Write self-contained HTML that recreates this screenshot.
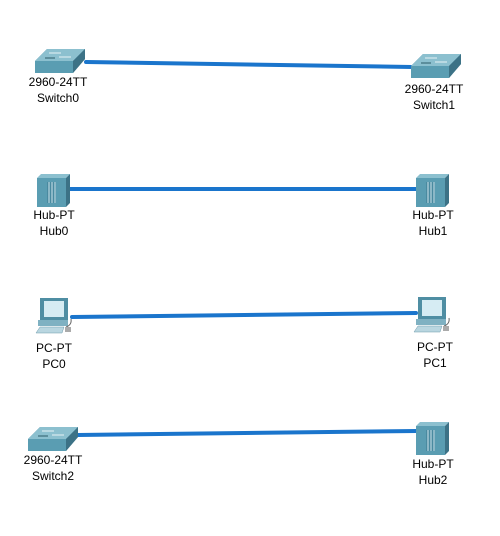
<!DOCTYPE html>
<html><head><meta charset="utf-8"><style>
html,body{margin:0;padding:0;background:#fff}
svg text{font-family:"Liberation Sans",Arial,sans-serif;font-size:12px;fill:#000;text-anchor:middle}
</style></head><body>
<svg width="500" height="531" viewBox="0 0 500 531" xmlns="http://www.w3.org/2000/svg">
<defs>
<g id="sw">
<polygon points="0,12 12,0 50,0 50,10 38,24 0,24" fill="#4f8ea3"/>
<polygon points="0,12 12,0 50,0 38,12" fill="#8cc0cf"/>
<polygon points="38,12 50,0 50,10 38,24" fill="#3c7286"/>
<rect x="0" y="12" width="38" height="12" fill="#5a9db2"/>
<line x1="14" y1="4" x2="26" y2="4" stroke="#e6f2f6" stroke-width="1"/>
<line x1="24" y1="8" x2="36" y2="8" stroke="#e6f2f6" stroke-width="1"/>
<line x1="10" y1="9" x2="20" y2="9" stroke="#2d5b6a" stroke-width="1"/>
</g>
<g id="hub">
<polygon points="0,4 4,0 33,0 29,4" fill="#8cc0cf"/>
<polygon points="29,4 33,0 33,29 29,33" fill="#3c7286"/>
<rect x="0" y="4" width="29" height="29" fill="#5a9db2"/>
<rect x="10" y="8" width="9" height="21" fill="#4a8aa0"/>
<line x1="12" y1="8" x2="12" y2="29" stroke="#cfe6ee"/>
<line x1="15" y1="8" x2="15" y2="29" stroke="#cfe6ee"/>
<line x1="18" y1="8" x2="18" y2="29" stroke="#cfe6ee"/>
</g>
<g id="pc">
<rect x="4" y="0" width="28" height="22" fill="#4f8ea3"/>
<rect x="8" y="3" width="20" height="16" fill="#d6ecf3"/>
<rect x="2" y="22" width="30" height="6" fill="#7fb1c2"/>
<polygon points="0,35 4,29 28,29 26,35" fill="#b9d6e0" stroke="#6d9aab" stroke-width="0.5"/>
<path d="M30,29 q6,-2 5,-8" stroke="#666" fill="none"/>
<rect x="29" y="29" width="6" height="5" fill="#aaa"/>
</g>
</defs>
<g stroke="#1a75cc" stroke-width="4" stroke-linecap="round">
<line x1="86" y1="62" x2="412" y2="67"/>
<line x1="70" y1="189" x2="417" y2="189"/>
<line x1="72" y1="317" x2="416" y2="313"/>
<line x1="78" y1="435" x2="417" y2="431"/>
</g>
<use href="#sw" x="35" y="49"/>
<use href="#sw" x="411" y="54"/>
<use href="#hub" x="37" y="174"/>
<use href="#hub" x="416" y="174"/>
<use href="#pc" x="36" y="298"/>
<use href="#pc" x="414" y="297"/>
<use href="#sw" x="28" y="427"/>
<use href="#hub" x="416" y="422"/>
<text x="58" y="86">2960-24TT</text><text x="58" y="102">Switch0</text>
<text x="434" y="93">2960-24TT</text><text x="434" y="109">Switch1</text>
<text x="54" y="219">Hub-PT</text><text x="54" y="235">Hub0</text>
<text x="433" y="219">Hub-PT</text><text x="433" y="235">Hub1</text>
<text x="54" y="352">PC-PT</text><text x="54" y="368">PC0</text>
<text x="435" y="351">PC-PT</text><text x="435" y="367">PC1</text>
<text x="53" y="464">2960-24TT</text><text x="53" y="480">Switch2</text>
<text x="433" y="468">Hub-PT</text><text x="433" y="484">Hub2</text>
</svg>
</body></html>
